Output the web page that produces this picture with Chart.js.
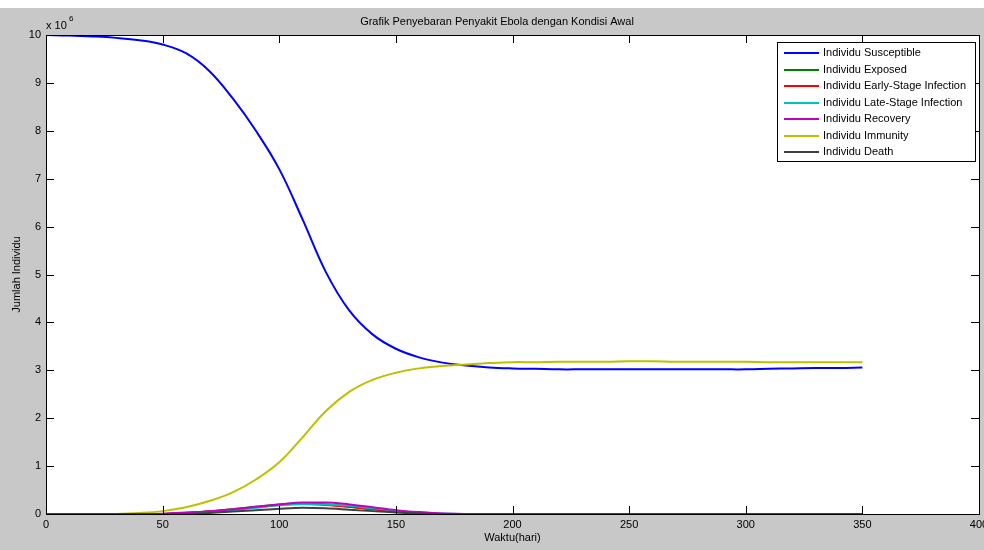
<!DOCTYPE html>
<html>
<head>
<meta charset="utf-8">
<script src="https://cdn.jsdelivr.net/npm/chart.js@4/dist/chart.umd.min.js"></script>
<style>
  html, body { margin: 0; padding: 0; background: #fff; }
  #grafik { display: block; }
</style>
</head>
<body>
<canvas id="grafik" width="984" height="550"></canvas>
<script>
// waktu (hari)
const waktu = [0, 10, 20, 30, 40, 50, 60, 70, 80, 90, 100, 110, 120, 130, 140, 150, 160, 170,
  180, 190, 200, 210, 220, 230, 240, 250, 260, 270, 280, 290, 300, 310, 320, 330, 340, 350];

// nilai dalam satuan 10^6
const susceptible = [10, 9.99, 9.97, 9.94, 9.89, 9.8, 9.62, 9.25, 8.68, 8.0, 7.2, 6.15, 5.05, 4.25, 3.75, 3.45, 3.27, 3.16,
  3.1, 3.06, 3.04, 3.03, 3.02, 3.02, 3.02, 3.02, 3.02, 3.02, 3.02, 3.02, 3.02, 3.03, 3.04, 3.05, 3.05, 3.06];
const exposed = [0, 0, 0, 0, 0, 0, 0.02, 0.05, 0.1, 0.15, 0.2, 0.22, 0.2, 0.15, 0.1, 0.05, 0.02, 0,
  0, 0, 0, 0, 0, 0, 0, 0, 0, 0, 0, 0, 0, 0, 0, 0, 0, 0];
const earlyStage = [0, 0, 0, 0, 0, 0, 0.02, 0.05, 0.09, 0.14, 0.19, 0.21, 0.19, 0.15, 0.1, 0.05, 0.02, 0,
  0, 0, 0, 0, 0, 0, 0, 0, 0, 0, 0, 0, 0, 0, 0, 0, 0, 0];
const lateStage = [0, 0, 0, 0, 0, 0, 0.01, 0.04, 0.08, 0.13, 0.18, 0.21, 0.2, 0.17, 0.12, 0.07, 0.03, 0.01,
  0, 0, 0, 0, 0, 0, 0, 0, 0, 0, 0, 0, 0, 0, 0, 0, 0, 0];
const recovery = [0, 0, 0, 0, 0, 0.005, 0.03, 0.06, 0.1, 0.15, 0.2, 0.24, 0.24, 0.2, 0.14, 0.08, 0.04, 0.01,
  0, 0, 0, 0, 0, 0, 0, 0, 0, 0, 0, 0, 0, 0, 0, 0, 0, 0];
const immunity = [0, 0, 0, 0, 0.02, 0.06, 0.14, 0.27, 0.45, 0.72, 1.08, 1.6, 2.15, 2.55, 2.8, 2.95, 3.04, 3.09,
  3.12, 3.15, 3.17, 3.17, 3.18, 3.18, 3.18, 3.19, 3.19, 3.18, 3.18, 3.18, 3.18, 3.17, 3.17, 3.17, 3.17, 3.17];
const death = [0, 0, 0, 0, 0, 0, 0, 0.02, 0.05, 0.08, 0.11, 0.13, 0.12, 0.09, 0.06, 0.03, 0.01, 0,
  0, 0, 0, 0, 0, 0, 0, 0, 0, 0, 0, 0, 0, 0, 0, 0, 0, 0];

const labelSeri = ["Individu Susceptible", "Individu Exposed", "Individu Early-Stage Infection",
  "Individu Late-Stage Infection", "Individu Recovery", "Individu Immunity", "Individu Death"];
const warnaSeri = ["#0000ff", "#008000", "#ff0000", "#00bfbf", "#bf00bf", "#bfbf00", "#404040"];
const dataSeri = [susceptible, exposed, earlyStage, lateStage, recovery, immunity, death];

const xTicks = [0, 50, 100, 150, 200, 250, 300, 350, 400];
const yTicks = [0, 1, 2, 3, 4, 5, 6, 7, 8, 9, 10];

const judul = "Grafik Penyebaran Penyakit Ebola dengan Kondisi Awal";
const judulX = "Waktu(hari)";
const judulY = "Jumlah Individu";

const FONT = "'Liberation Sans', Arial, sans-serif";

const datasets = dataSeri.map((d, i) => {
  const besar = (d === susceptible || d === immunity);
  return {
    label: labelSeri[i],
    data: waktu.map((t, j) => ({ x: t, y: d[j] })),
    borderColor: warnaSeri[i],
    backgroundColor: warnaSeri[i],
    borderWidth: 2,
    pointRadius: 0,
    tension: besar ? 0.4 : 0,
    cubicInterpolationMode: besar ? "default" : "monotone",
    order: dataSeri.length - i, // seri terakhir digambar paling atas
  };
});

// latar abu-abu ala figure MATLAB, area plot putih
const latarPlugin = {
  id: "latar",
  beforeDraw(chart) {
    const { ctx, chartArea: a } = chart;
    ctx.save();
    ctx.fillStyle = "#ffffff";
    ctx.fillRect(0, 0, chart.width, 8);
    ctx.fillStyle = "#c8c8c8";
    ctx.fillRect(0, 8, chart.width, chart.height - 8);
    ctx.fillStyle = "#ffffff";
    ctx.fillRect(a.left, a.top, a.right - a.left, a.bottom - a.top);
    ctx.restore();
  },
};

// kotak, tick ke dalam, judul dan legenda
const hiasanPlugin = {
  id: "hiasan",
  afterDraw(chart) {
    const { ctx, chartArea: a } = chart;
    const sx = chart.scales.x, sy = chart.scales.y;
    const tl = 8;
    ctx.save();
    ctx.strokeStyle = "#000";
    ctx.lineWidth = 1;
    ctx.beginPath();
    xTicks.forEach(v => {
      const px = Math.round(sx.getPixelForValue(v)) + 0.5;
      ctx.moveTo(px, a.bottom); ctx.lineTo(px, a.bottom - tl);
      ctx.moveTo(px, a.top); ctx.lineTo(px, a.top + tl);
    });
    yTicks.forEach(v => {
      const py = Math.round(sy.getPixelForValue(v)) + 0.5;
      ctx.moveTo(a.left, py); ctx.lineTo(a.left + tl, py);
      ctx.moveTo(a.right, py); ctx.lineTo(a.right - tl, py);
    });
    ctx.stroke();
    ctx.strokeRect(Math.round(a.left) + 0.5, Math.round(a.top) + 0.5,
      Math.round(a.right - a.left), Math.round(a.bottom - a.top));

    // teks
    ctx.fillStyle = "#000";
    ctx.font = "11px " + FONT;
    ctx.textAlign = "center";
    ctx.textBaseline = "middle";
    ctx.fillText(judul, 497, 22);
    ctx.fillText(judulX, (a.left + a.right) / 2, 538);
    ctx.save();
    ctx.translate(17, (a.top + a.bottom) / 2);
    ctx.rotate(-Math.PI / 2);
    ctx.fillText(judulY, 0, 0);
    ctx.restore();

    ctx.textAlign = "left";
    ctx.fillText("x 10", 46, 26);
    ctx.font = "8px " + FONT;
    ctx.fillText("6", 69, 19);

    // legenda
    const lx = 777, ly = 42, lw = 198, lh = 119;
    ctx.fillStyle = "#fff";
    ctx.fillRect(lx, ly, lw, lh);
    ctx.strokeStyle = "#000";
    ctx.strokeRect(lx + 0.5, ly + 0.5, lw, lh);
    ctx.font = "11px " + FONT;
    ctx.textBaseline = "middle";
    chart.data.datasets.forEach((ds, i) => {
      const y = 53 + i * 16.5;
      ctx.strokeStyle = ds.borderColor;
      ctx.lineWidth = 2;
      ctx.beginPath();
      ctx.moveTo(784, Math.round(y));
      ctx.lineTo(819, Math.round(y));
      ctx.stroke();
      ctx.fillStyle = "#000";
      ctx.fillText(ds.label, 823, y);
    });
    ctx.restore();
  },
};

new Chart(document.getElementById("grafik"), {
  type: "line",
  data: { datasets },
  options: {
    responsive: false,
    animation: false,
    layout: { padding: { top: 35, right: 5, left: 0, bottom: 0 } },
    plugins: { legend: { display: false }, tooltip: { enabled: false }, title: { display: false } },
    scales: {
      x: {
        type: "linear",
        min: 0,
        max: 400,
        afterFit: s => { s.height = 36; s.paddingLeft = 0; s.paddingRight = 0; },
        afterBuildTicks: s => { s.ticks = xTicks.map(v => ({ value: v })); },
        grid: { display: false, drawTicks: false },
        border: { display: false },
        ticks: { padding: 4, color: "#000", font: { size: 11, family: FONT }, maxRotation: 0 },
      },
      y: {
        min: 0,
        max: 10,
        afterFit: s => { s.width = 46; s.paddingTop = 0; s.paddingBottom = 0; },
        afterBuildTicks: s => { s.ticks = yTicks.map(v => ({ value: v })); },
        grid: { display: false, drawTicks: false },
        border: { display: false },
        ticks: { padding: 5, color: "#000", font: { size: 11, family: FONT } },
      },
    },
  },
  plugins: [latarPlugin, hiasanPlugin],
});
</script>
</body>
</html>
